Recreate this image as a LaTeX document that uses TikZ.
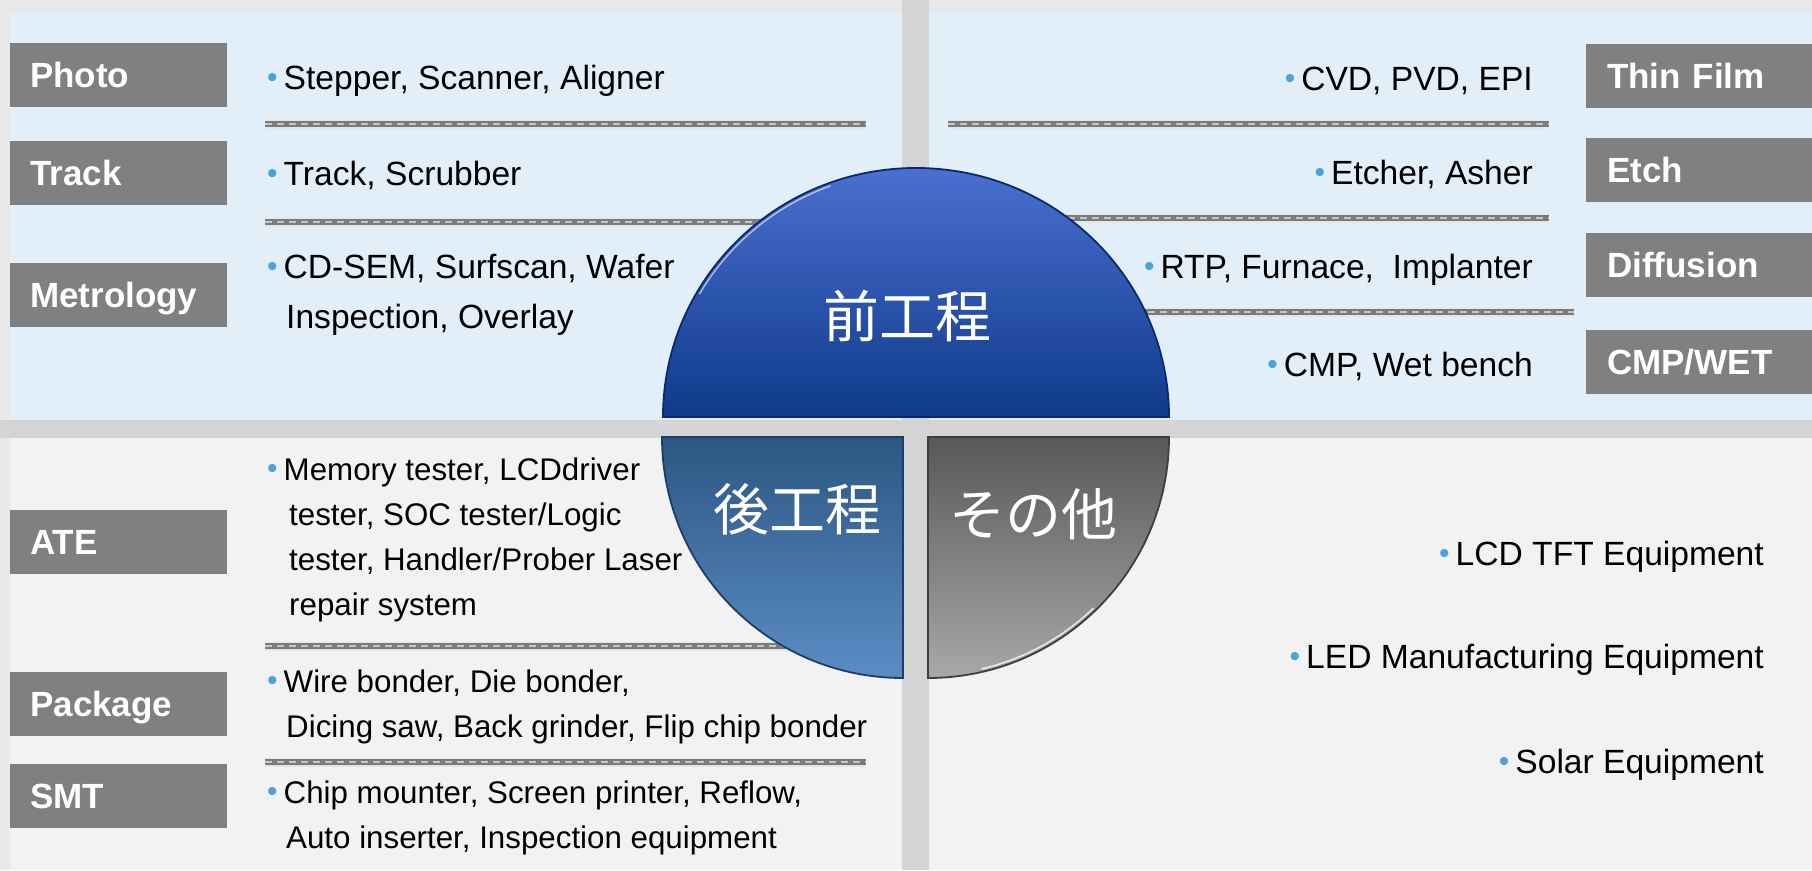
\documentclass[tikz,border=0pt]{standalone}
\usepackage{fontspec}
\setmainfont{Liberation Sans}
\newfontfamily\cjk{Noto Sans CJK JP}

\definecolor{bggray}{HTML}{E8E8E8}
\definecolor{gapgray}{HTML}{D4D4D4}
\definecolor{panelblue}{HTML}{E2EEF8}
\definecolor{panelgray}{HTML}{F2F2F2}
\definecolor{lblgray}{HTML}{808080}
\definecolor{bulletblue}{HTML}{4BA3DB}
\definecolor{sepgray}{HTML}{7B7B7B}
\definecolor{sepdash}{HTML}{C6C6C6}
\definecolor{frontTop}{HTML}{4A70D0}
\definecolor{frontBot}{HTML}{0F3A8A}
\definecolor{frontLine}{HTML}{0A2870}
\definecolor{backTop}{HTML}{2C5783}
\definecolor{backBot}{HTML}{5B8CC4}
\definecolor{backLine}{HTML}{1E3D66}
\definecolor{otherTop}{HTML}{585858}
\definecolor{otherBot}{HTML}{A8A8A8}
\definecolor{otherLine}{HTML}{3F3F3F}

\newcommand{\tbullet}{{\color{bulletblue}\raisebox{2pt}{\fontsize{30}{30}\selectfont\textbullet}}\hspace{6pt}}

\begin{document}
\begin{tikzpicture}[
    x=1pt, y=1pt,
    lbl/.style={rectangle, fill=lblgray, text=white, font=\fontsize{35}{40}\selectfont\bfseries,
        minimum height=64pt, text width=177pt, inner xsep=20pt, inner ysep=0pt,
        text height=25pt, text depth=0pt, align=left, anchor=north west},
    rlbl/.style={lbl, text width=185pt, inner xsep=21pt},
    item/.style={font=\fontsize{33.6}{50}\selectfont, inner sep=0pt, align=left, anchor=base west},
    ritem/.style={item, align=right, anchor=base east},
    bitem/.style={item, font=\fontsize{31.3}{45}\selectfont},
    sepline/.style={line width=2pt, sepdash, dash pattern=on 7pt off 5pt,
        preaction={draw, solid, line width=9pt, black!10},
        preaction={draw, solid, line width=6.5pt, sepgray}},
    pietext/.style={text=white, font=\cjk\fontsize{56}{60}\selectfont, inner sep=0pt}
]
    % background and panels
    \useasboundingbox (0,0) rectangle (1812,-870);
    \fill[bggray] (0,0) rectangle (1812,-870);
    \fill[gapgray] (902,0) rectangle (929,-870);
    \fill[gapgray] (0,-420) rectangle (1812,-438);
    \fill[panelblue] (10,-12) rectangle (902,-420);
    \fill[panelblue] (929,-12) rectangle (1812,-420);
    \fill[panelgray] (10,-438) rectangle (902,-870);
    \fill[panelgray] (929,-438) rectangle (1812,-870);

    % separators
    \draw[sepline] (265,-124) -- (866,-124);
    \draw[sepline] (265,-222) -- (866,-222);
    \draw[sepline] (948,-124) -- (1549,-124);
    \draw[sepline] (948,-218) -- (1549,-218);
    \draw[sepline] (1100,-312) -- (1574,-312);
    \draw[sepline] (265,-646) -- (866,-646);
    \draw[sepline] (265,-762) -- (866,-762);

    % front-end process, left
    \node[lbl] (photo) at (10,-43) {Photo};
    \node[lbl] (track) at (10,-141) {Track};
    \node[lbl] (metro) at (10,-263) {Metrology};
    \node[item] (photoTxt) at (267,-89) {\tbullet Stepper, Scanner, Aligner};
    \node[item] (trackTxt) at (267,-185) {\tbullet Track, Scrubber};
    \node[item] (metroTxt) at (267,-328) {\tbullet CD-SEM, Surfscan, Wafer\\\hspace*{19pt}Inspection, Overlay};

    % front-end process, right
    \node[rlbl] (film) at (1586,-44) {Thin Film};
    \node[rlbl] (etch) at (1586,-138) {Etch};
    \node[rlbl] (diff) at (1586,-233) {Diffusion};
    \node[rlbl] (cmp) at (1586,-330) {CMP/WET};
    \node[ritem] (filmTxt) at (1533,-90) {\tbullet CVD, PVD, EPI};
    \node[ritem] (etchTxt) at (1533,-184) {\tbullet Etcher, Asher};
    \node[ritem] (diffTxt) at (1533,-278) {\tbullet RTP, Furnace,\ \ Implanter};
    \node[ritem] (cmpTxt) at (1533,-376) {\tbullet CMP, Wet bench};

    % back-end process
    \node[lbl] (ate) at (10,-510) {ATE};
    \node[lbl] (pkg) at (10,-672) {Package};
    \node[lbl] (smt) at (10,-764) {SMT};
    \node[bitem] (ateTxt) at (267,-615) {\tbullet Memory tester, LCDdriver\\\hspace*{22pt}tester, SOC tester/Logic\\\hspace*{22pt}tester, Handler/Prober Laser\\\hspace*{22pt}repair system};
    \node[bitem] (pkgTxt) at (267,-737) {\tbullet Wire bonder, Die bonder,\\\hspace*{19pt}Dicing saw, Back grinder, Flip chip bonder};
    \node[bitem] (smtTxt) at (267,-848) {\tbullet Chip mounter, Screen printer, Reflow,\\\hspace*{19pt}Auto inserter, Inspection equipment};

    % others
    \node[ritem] (lcd) at (1764,-565) {\tbullet LCD TFT Equipment};
    \node[ritem] (led) at (1764,-668) {\tbullet LED Manufacturing Equipment};
    \node[ritem] (solar) at (1764,-773) {\tbullet Solar Equipment};

    % pie
    \shade[top color=frontTop, bottom color=frontBot] (663,-417) arc[start angle=180, end angle=0, x radius=253, y radius=249] -- cycle;
    \draw[frontLine, line width=1.8pt] (663,-417) arc[start angle=180, end angle=0, x radius=253, y radius=249] -- cycle;
    \draw[white, opacity=0.6, line width=1.5pt] (916,-417) ++(150:250 and 246) arc[start angle=150, end angle=110, x radius=250, y radius=246];
    \shade[top color=backTop, bottom color=backBot] (903,-437) -- (662,-437) arc[start angle=180, end angle=270, radius=241] -- cycle;
    \draw[backLine, line width=1.8pt] (903,-437) -- (662,-437) arc[start angle=180, end angle=270, radius=241] -- cycle;
    \shade[top color=otherTop, bottom color=otherBot] (928,-437) -- (1169,-437) arc[start angle=0, end angle=-90, radius=241] -- cycle;
    \draw[otherLine, line width=1.8pt] (928,-437) -- (1169,-437) arc[start angle=0, end angle=-90, radius=241] -- cycle;
    \draw[white, opacity=0.8, line width=1.5pt] (928,-437) ++(-46:238) arc[start angle=-46, end angle=-77, radius=238];

    \node[pietext] (front) at (907,-316) {前工程};
    \node[pietext] (back) at (797,-509) {後工程};
    \node[pietext] (other) at (1033,-514) {その他};
\end{tikzpicture}
\end{document}
